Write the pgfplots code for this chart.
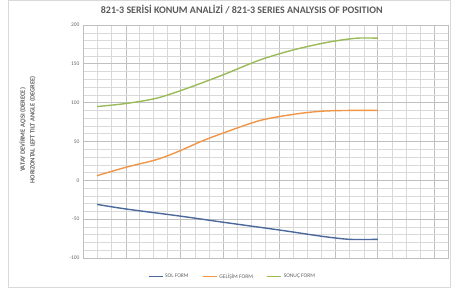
\documentclass[border=0pt]{standalone}
\usepackage{pgfplots}
\pgfplotsset{compat=1.18}
\usepackage{fontspec}
\setmainfont{Carlito}
\definecolor{cgreen}{RGB}{155,187,89}
\definecolor{corange}{RGB}{240,150,70}
\definecolor{cblue}{RGB}{75,105,155}
\begin{document}
\begin{tikzpicture}
\useasboundingbox (0pt,0pt) rectangle (451pt,288pt);
\draw[gray!30] (8.5pt,0.5pt) rectangle (450.5pt,287.5pt);
\begin{axis}[
  at={(83pt,30pt)}, anchor=south west,
  scale only axis, width=365pt, height=233pt,
  xmin=0, xmax=26, ymin=-100, ymax=200,
  xtick={3.1,6.9,10,14,18,21,25}, xticklabels={},
  minor xtick={1,2,4,5,6,8,9,11,12,13,15,16,17,19,20,22,23,24},
  ytick={-100,-50,0,50,100,150,200},
  minor y tick num=4,
  grid=both,
  major grid style={gray!50, line width=0.7pt},
  minor grid style={gray!30, line width=0.5pt},
  extra y ticks={50}, extra y tick labels={},
  extra y tick style={grid style={gray!85, line width=1pt}},
  major tick length=0pt, minor tick length=0pt,
  axis line style={gray!50},
  y tick label style={font=\fontsize{5.5}{6.5}\selectfont, text=gray!80!black},
  /pgf/number format/assume math mode=true,
  title={\bfseries 821-3 SERİSİ KONUM ANALİZİ / 821-3 SERIES ANALYSIS OF POSITION},
  title style={font=\fontsize{10}{12}\selectfont, text=gray!70!black, at={(0.435,1)}, yshift=2pt},
  ylabel={\shortstack{YATAY DEVİRME AÇISI (DERECE)\\[1pt]HORIZONTAL LEFT TILT ANGLE (DEGREE)}},
  ylabel style={font=\fontsize{6.5}{7.5}\selectfont\bfseries, text=gray!75!black, at={(axis description cs:-0.12,0.55)}},
  legend style={at={(0.41,-0.05)}, anchor=north, draw=none, fill=none,
    legend columns=3, font=\fontsize{5.5}{6.5}\selectfont, text=gray!75!black,
    /tikz/every even column/.append style={column sep=12pt}},
  legend image code/.code={\draw[#1, line width=0.8pt] (0pt,0pt) -- (14pt,0pt);},
]
\addplot[cblue, line width=1.4pt, smooth] coordinates {
(1,-31) (3.1,-37) (6.9,-46) (10,-54) (14,-64) (17,-72) (19,-76) (21,-76)};
\addlegendentry{SOL FORM}
\addplot[corange, line width=1.4pt, smooth] coordinates {
(1,6) (3.1,17) (5.3,27) (6.9,38) (8.4,50) (10,61) (12.6,77) (15,85) (17,89) (19,90) (21,90)};
\addlegendentry{GELİŞİM FORM}
\addplot[cgreen, line width=1.4pt, smooth] coordinates {
(1,95) (3.1,99) (5.3,106) (7.5,119) (10,136) (12.6,155) (15,168) (17.5,178) (19.5,183) (21,183)};
\addlegendentry{SONUÇ FORM}
\end{axis}
\end{tikzpicture}
\end{document}
